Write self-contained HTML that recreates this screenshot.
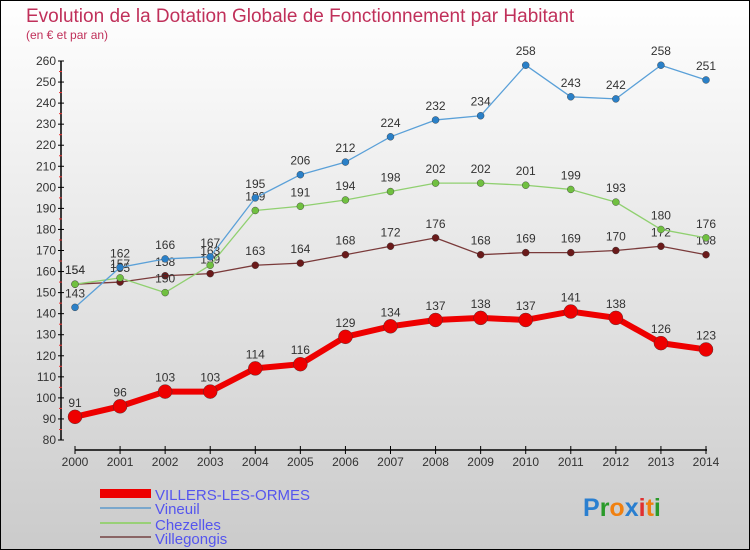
<!DOCTYPE html>
<html><head><meta charset="utf-8"><style>
body{margin:0}
#c{width:750px;height:550px;position:relative;overflow:hidden}
svg text{font-family:"Liberation Sans",sans-serif}
</style></head><body>
<div id="c">
<svg id="s" width="750" height="550" xmlns="http://www.w3.org/2000/svg">
<defs><linearGradient id="bg" x1="0" y1="0" x2="0" y2="1"><stop offset="0" stop-color="#ffffff"/><stop offset="1" stop-color="#cbcbcb"/></linearGradient></defs>
<rect x="0.5" y="0.5" width="749" height="549" fill="url(#bg)" stroke="#000"/>
<text x="26" y="22" font-size="19" fill="#c0305a">Evolution de la Dotation Globale de Fonctionnement par Habitant</text>
<text x="26" y="39" font-size="12" fill="#c0305a">(en € et par an)</text>
<g id="axes"></g><g id="series"></g>
<g>
<rect x="100" y="489" width="51" height="9" fill="#ee0000"/>
<text x="155" y="500" font-size="15" fill="#5555ee">VILLERS-LES-ORMES</text>
<rect x="100" y="507" width="51" height="2" fill="#7aa7cc"/>
<text x="155" y="514" font-size="15" fill="#5555ee">Vineuil</text>
<rect x="100" y="522" width="51" height="2" fill="#99d077"/>
<text x="155" y="530" font-size="15" fill="#5555ee">Chezelles</text>
<rect x="100" y="536" width="51" height="2" fill="#8a6565"/>
<text x="155" y="544" font-size="15" fill="#5555ee">Villegongis</text>
</g>
<text x="583" y="516" font-size="25" font-weight="bold"><tspan fill="#2a7fd0">P</tspan><tspan fill="#2a9a2a">r</tspan><tspan fill="#f08010">o</tspan><tspan fill="#2a7fd0">x</tspan><tspan fill="#e03030">i</tspan><tspan fill="#f08010">t</tspan><tspan fill="#2a9a2a">i</tspan></text>
</svg></div>
<script>
const years=[2000,2001,2002,2003,2004,2005,2006,2007,2008,2009,2010,2011,2012,2013,2014];
const villers=[91,96,103,103,114,116,129,134,137,138,137,141,138,126,123];
const vineuil=[143,162,166,167,195,206,212,224,232,234,258,243,242,258,251];
const chezelles=[154,157,150,163,189,191,194,198,202,202,201,199,193,180,176];
const villegongis=[154,155,158,159,163,164,168,172,176,168,169,169,170,172,168];
const yTicks=[80,90,100,110,120,130,140,150,160,170,180,190,200,210,220,230,240,250,260];
const NS="http://www.w3.org/2000/svg";
const X=i=>75+i*(631/14);
const Y=v=>440-(v-80)*(379/180);
function mk(t,a,p){const e=document.createElementNS(NS,t);for(const k in a)e.setAttribute(k,a[k]);p.appendChild(e);return e;}
const ax=document.getElementById('axes');
let l=mk('line',{x1:61,y1:Y(260),x2:61,y2:Y(80),stroke:'#000','stroke-width':1.5},ax);


yTicks.forEach(v=>{
 let t=mk('line',{x1:58,x2:64,y1:Y(v),y2:Y(v),stroke:'#000'},ax);
 
 
 if(v<260){let m=mk('line',{x1:59,x2:62,y1:Y(v+5),y2:Y(v+5),stroke:'#e33'},ax);
 
 }
 let tx=mk('text',{x:56,y:Y(v)+4,'font-size':12,'text-anchor':'end',fill:'#333'},ax);tx.textContent=v;
 
 
});
l=mk('line',{x1:75,y1:450,x2:707,y2:450,stroke:'#000','stroke-width':1.5},ax);


years.forEach((y,i)=>{
 let t=mk('line',{x1:X(i),x2:X(i),y1:446,y2:454,stroke:'#000'},ax);
 
 
 let tx=mk('text',{x:X(i),y:466,'font-size':12,'text-anchor':'middle',fill:'#333'},ax);tx.textContent=y;
 
 
});
const sg=document.getElementById('series');
function draw(name,vals,col,w,r,dot){
 const g=mk('g',{},sg);
 
 
 const pl=mk('polyline',{points:vals.map((v,i)=>X(i)+','+Y(v)).join(' '),fill:'none',stroke:col,'stroke-width':w,'stroke-linejoin':'round'},g);
 
 
 vals.forEach((v,i)=>{
  const c=mk('circle',{cx:X(i),cy:Y(v),r:r,fill:dot,stroke:'#333','stroke-width':0.4},g);
  
  
  const t=mk('text',{x:X(i),y:Y(v)-10,'font-size':12,'text-anchor':'middle',fill:'#333'},g);t.textContent=v;
  
  
 });
}
draw('villegongis',villegongis,'#7a3a3a',1.3,3.5,'#6a1a1a');
draw('chezelles',chezelles,'#90d070',1.3,3.5,'#70c040');
draw('vineuil',vineuil,'#5aa0d8',1.3,3.5,'#2a80c8');
draw('villers',villers,'#ee0000',6,7,'#ee0000');
</script>
</body></html>
